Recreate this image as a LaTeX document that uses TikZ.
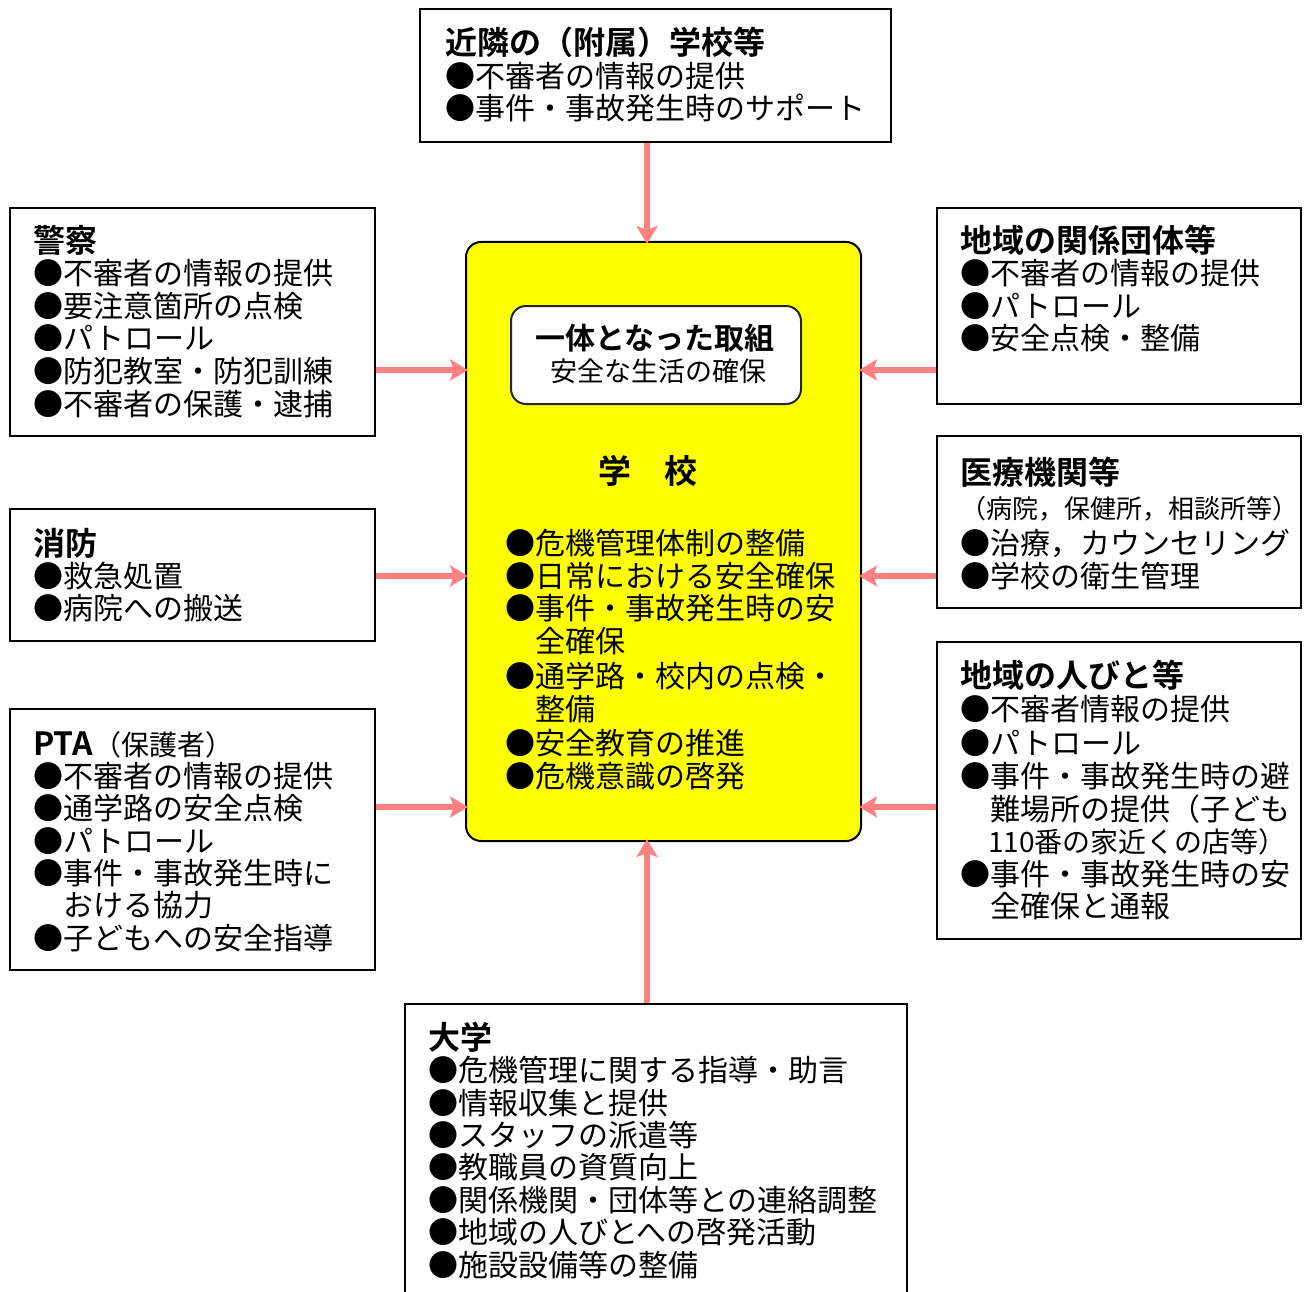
\documentclass[tikz,border=0pt]{standalone}
\usepackage{fontspec}
\setmainfont{Noto Sans CJK JP}[BoldFont={Noto Sans CJK JP Bold}]
\usetikzlibrary{arrows.meta}
\definecolor{arrowpink}{RGB}{255,128,128}
\definecolor{schoolyellow}{RGB}{255,255,0}
\newcommand\bodyfs{\fontsize{30}{33}\selectfont}
\newcommand\titlefs{\fontsize{32}{35}\selectfont\bfseries}
\tikzset{
  box/.style={draw=black, line width=2pt, fill=white, anchor=north west, inner sep=0pt},
  txt/.style={anchor=base west, inner sep=0pt, font=\bodyfs},
  ttl/.style={anchor=base west, inner sep=0pt, font=\titlefs},
  arr/.style={draw=arrowpink, line width=6pt, -{Stealth[length=18pt, width=21pt, inset=4pt]}, shorten >=-3pt},
}
\begin{document}
\begin{tikzpicture}[x=1pt, y=-1pt]
\fill[white] (0,0) rectangle (1304,1292);
\useasboundingbox (0,0) rectangle (1304,1292);
\clip (0,0) rectangle (1304,1292);

% boxes
\node[box, minimum width=471pt, minimum height=133pt] (nb) at (419,8) {};
\node[box, minimum width=365pt, minimum height=228pt] (police) at (9,207) {};
\node[box, minimum width=365pt, minimum height=132pt] (fire) at (9,508) {};
\node[box, minimum width=365pt, minimum height=261pt] (pta) at (9,708) {};
\node[box, minimum width=364pt, minimum height=196pt] (org) at (936,207) {};
\node[box, minimum width=364pt, minimum height=172pt] (med) at (936,435) {};
\node[box, minimum width=364pt, minimum height=297pt] (ppl) at (936,641) {};
\node[box, minimum width=502pt, minimum height=320pt] (univ) at (404,1003) {};

% school
\node[draw=black, line width=2pt, fill=schoolyellow, rounded corners=15pt, anchor=north west,
      minimum width=395pt, minimum height=599pt, inner sep=0pt] (school) at (465,241) {};
\node[draw=black!85, line width=2pt, fill=white, rounded corners=15pt, anchor=north west,
      minimum width=290pt, minimum height=98pt, inner sep=0pt] (joint) at (510,305) {};
\node[anchor=base, inner sep=0pt, font=\fontsize{30}{33}\selectfont\bfseries] (joint-t) at (655,349.4) {一体となった取組};
\node[anchor=base, inner sep=0pt, font=\fontsize{27}{30}\selectfont] (joint-s) at (658,381.3) {安全な生活の確保};
\node[anchor=base, inner sep=0pt, font=\fontsize{33}{36}\selectfont\bfseries] (school-t) at (648,483.5) {学　校};
\node[txt] (s1) at (505,554.4) {●危機管理体制の整備};
\node[txt] (s2) at (505,587.4) {●日常における安全確保};
\node[txt] (s3) at (505,619.4) {●事件・事故発生時の安};
\node[txt] (s4) at (535,652.4) {全確保};
\node[txt] (s5) at (505,687.4) {●通学路・校内の点検・};
\node[txt] (s6) at (535,720.4) {整備};
\node[txt] (s7) at (505,754.4) {●安全教育の推進};
\node[txt] (s8) at (505,787.4) {●危機意識の啓発};

% top box
\node[ttl] (nb-t) at (445,55) {近隣の（附属）学校等};
\node[txt] (nb1) at (445,87.4) {●不審者の情報の提供};
\node[txt] (nb2) at (445,119.4) {●事件・事故発生時のサポート};

% police
\node[ttl] (police-t) at (33,252) {警察};
\node[txt] (police1) at (33,284.4) {●不審者の情報の提供};
\node[txt] (police2) at (33,317.4) {●要注意箇所の点検};
\node[txt] (police3) at (33,349.4) {●パトロール};
\node[txt] (police4) at (33,382.4) {●防犯教室・防犯訓練};
\node[txt] (police5) at (33,415.4) {●不審者の保護・逮捕};

% fire
\node[ttl] (fire-t) at (33,555) {消防};
\node[txt] (fire1) at (33,587.4) {●救急処置};
\node[txt] (fire2) at (33,619.4) {●病院への搬送};

% PTA
\node[ttl] (pta-t) at (33,755) {PTA\mdseries\fontsize{28}{31}\selectfont（保護者）};
\node[txt] (pta1) at (33,787.4) {●不審者の情報の提供};
\node[txt] (pta2) at (33,819.4) {●通学路の安全点検};
\node[txt] (pta3) at (33,852.4) {●パトロール};
\node[txt] (pta4) at (33,884.4) {●事件・事故発生時に};
\node[txt] (pta5) at (63,916.4) {おける協力};
\node[txt] (pta6) at (33,949.4) {●子どもへの安全指導};

% org
\node[ttl] (org-t) at (960,252) {地域の関係団体等};
\node[txt] (org1) at (960,284.4) {●不審者の情報の提供};
\node[txt] (org2) at (960,317.4) {●パトロール};
\node[txt] (org3) at (960,349.4) {●安全点検・整備};

% med
\node[ttl] (med-t) at (960,484) {医療機関等};
\node[txt, font=\fontsize{26}{29}\selectfont] (med0) at (960,518.9) {（病院，保健所，相談所等）};
\node[txt] (med1) at (960,554.4) {●治療，カウンセリング};
\node[txt] (med2) at (960,587.4) {●学校の衛生管理};

% people
\node[ttl] (ppl-t) at (960,687) {地域の人びと等};
\node[txt] (ppl1) at (960,720.4) {●不審者情報の提供};
\node[txt] (ppl2) at (960,754.4) {●パトロール};
\node[txt] (ppl3) at (960,787.4) {●事件・事故発生時の避};
\node[txt] (ppl4) at (990,820.4) {難場所の提供（子ども};
\node[txt, font=\fontsize{28}{31}\selectfont] (ppl5) at (988,852.8) {110番の家近くの店等）};
\node[txt] (ppl6) at (960,885.4) {●事件・事故発生時の安};
\node[txt] (ppl7) at (990,917.4) {全確保と通報};

% university
\node[ttl] (univ-t) at (428,1049) {大学};
\node[txt] (univ1) at (428,1081.4) {●危機管理に関する指導・助言};
\node[txt] (univ2) at (428,1114.4) {●情報収集と提供};
\node[txt] (univ3) at (428,1146.4) {●スタッフの派遣等};
\node[txt] (univ4) at (428,1178.4) {●教職員の資質向上};
\node[txt] (univ5) at (428,1211.4) {●関係機関・団体等との連絡調整};
\node[txt] (univ6) at (428,1243.4) {●地域の人びとへの啓発活動};
\node[txt] (univ7) at (428,1276.4) {●施設設備等の整備};

% arrows
\coordinate (xc) at (647,0);
\coordinate (ya) at (0,370);
\coordinate (yb) at (0,576);
\coordinate (yc) at (0,807);
\draw[arr] (nb.south -| xc) -- (school.north -| xc);
\draw[arr] (univ.north -| xc) -- (school.south -| xc);
\draw[arr] (police.east |- ya) -- (school.west |- ya);
\draw[arr] (fire.east |- yb) -- (school.west |- yb);
\draw[arr] (pta.east |- yc) -- (school.west |- yc);
\draw[arr] (org.west |- ya) -- (school.east |- ya);
\draw[arr] (med.west |- yb) -- (school.east |- yb);
\draw[arr] (ppl.west |- yc) -- (school.east |- yc);
\end{tikzpicture}
\end{document}
